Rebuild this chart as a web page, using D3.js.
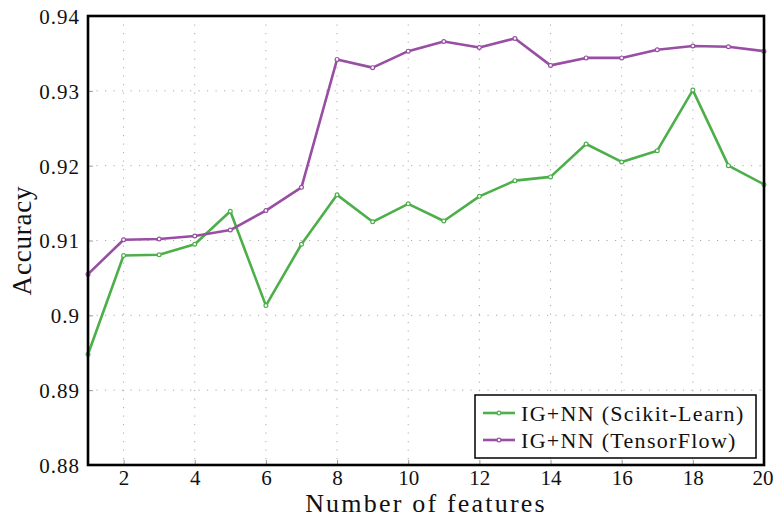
<!DOCTYPE html>
<html>
<head>
<meta charset="utf-8">
<script src="https://cdn.jsdelivr.net/npm/d3@7"></script>
<style>
  body { margin: 0; background: #fff; }
  svg { display: block; font-family: "Liberation Serif", "DejaVu Serif", serif; }
</style>
</head>
<body>
<svg id="chart"></svg>
<script>
// number of features on x
const features = d3.range(1, 21);
const sklearnAcc = [0.8948, 0.9080, 0.9081, 0.9095, 0.9139, 0.9013, 0.9095, 0.9161, 0.9125, 0.9149,
                    0.9126, 0.9159, 0.9180, 0.9185, 0.9229, 0.9205, 0.9220, 0.9301, 0.9200, 0.9175];
const tensorflowAcc = [0.9055, 0.9101, 0.9102, 0.9106, 0.9114, 0.9140, 0.9171, 0.9342, 0.9331, 0.9353,
                       0.9366, 0.9358, 0.9370, 0.9334, 0.9344, 0.9344, 0.9355, 0.9360, 0.9359, 0.9353];
const seriesNames = ['IG+NN (Scikit-Learn)', 'IG+NN (TensorFlow)'];
const seriesColors = ['#4daf4a', '#984ea3'];
const xTicks = [2, 4, 6, 8, 10, 12, 14, 16, 18, 20];
const yTicks = [0.88, 0.89, 0.9, 0.91, 0.92, 0.93, 0.94];

const W = 774, H = 518;
const margin = { top: 16, right: 10, bottom: 53, left: 88 };
const width = W - margin.left - margin.right;
const height = H - margin.top - margin.bottom;

const svg = d3.select('#chart').attr('width', W).attr('height', H);
const chart = svg.append('g').attr('transform', `translate(${margin.left},${margin.top})`);

const x = d3.scaleLinear().domain([1, 20]).range([0, width]);
const y = d3.scaleLinear().domain([0.88, 0.94]).range([height, 0]);

// grid
chart.append('g').selectAll('line').data(xTicks.slice(0, -1)).join('line')
  .attr('x1', d => x(d)).attr('x2', d => x(d)).attr('y1', 0).attr('y2', height)
  .attr('stroke', '#aaa').attr('stroke-width', 1).attr('stroke-dasharray', '1.2,7.3');
chart.append('g').selectAll('line').data(yTicks.slice(1, -1)).join('line')
  .attr('x1', 0).attr('x2', width).attr('y1', d => y(d)).attr('y2', d => y(d))
  .attr('stroke', '#aaa').attr('stroke-width', 1).attr('stroke-dasharray', '1.2,7.3');

// axes
const fmt = d => (d === 0.9 ? '0.9' : d3.format('.2f')(d));
const xAxis = chart.append('g').attr('transform', `translate(0,${height})`)
  .call(d3.axisBottom(x).tickValues(xTicks).tickSize(-5).tickSizeOuter(0));
const yAxis = chart.append('g')
  .call(d3.axisLeft(y).tickValues(yTicks).tickFormat(fmt).tickSize(-5).tickSizeOuter(0).tickPadding(8));
[xAxis, yAxis].forEach(a => {
  a.select('.domain').remove();
  a.selectAll('line').attr('stroke', '#999');
  a.selectAll('text').attr('font-family', '"Liberation Serif", serif').attr('font-size', 21)
    .attr('fill', '#111');
});
xAxis.selectAll('text').attr('y', 20).attr('dy', 0);
xAxis.selectAll('.tick').filter(d => d === 20).select('text').attr('text-anchor', 'end').attr('x', 9);
yAxis.selectAll('text').attr('dy', '0.35em').attr('letter-spacing', 1);

// series
const line = d3.line().x((d, i) => x(features[i])).y(d => y(d));
[sklearnAcc, tensorflowAcc].forEach((vals, k) => {
  chart.append('path').datum(vals).attr('d', line)
    .attr('fill', 'none').attr('stroke', seriesColors[k]).attr('stroke-width', 2.6)
    .attr('stroke-linejoin', 'round');
  chart.append('g').selectAll('circle').data(vals).join('circle')
    .attr('cx', (d, i) => x(features[i])).attr('cy', d => y(d)).attr('r', 1.9)
    .attr('fill', '#fff').attr('stroke', seriesColors[k]).attr('stroke-width', 1.2);
});

// frame
chart.append('rect').attr('width', width).attr('height', height)
  .attr('fill', 'none').attr('stroke', '#000').attr('stroke-width', 2.6);

// axis titles
svg.append('text').attr('x', margin.left + width / 2).attr('y', 512)
  .attr('text-anchor', 'middle').attr('font-size', 26).attr('letter-spacing', 2.2)
  .attr('fill', '#111').text('Number of features');
svg.append('text').attr('transform', `translate(31,${margin.top + height / 2}) rotate(-90)`)
  .attr('text-anchor', 'middle').attr('font-size', 27).attr('letter-spacing', 0.8)
  .attr('fill', '#111').text('Accuracy');

// legend
const lg = svg.append('g').attr('transform', 'translate(475,395)');
lg.append('rect').attr('width', 281).attr('height', 63)
  .attr('fill', '#fff').attr('stroke', '#000').attr('stroke-width', 1.5);
seriesNames.forEach((name, k) => {
  const row = lg.append('g').attr('transform', `translate(0,${18 + k * 27})`);
  row.append('line').attr('x1', 8).attr('x2', 40).attr('stroke', seriesColors[k]).attr('stroke-width', 2.6);
  row.append('circle').attr('cx', 24).attr('r', 1.9).attr('fill', '#fff')
    .attr('stroke', seriesColors[k]).attr('stroke-width', 1.2);
  row.append('text').attr('x', 46).attr('dy', '0.35em').attr('font-size', 22)
    .attr('letter-spacing', 1.3).attr('fill', '#111').text(name);
});
</script>
</body>
</html>
